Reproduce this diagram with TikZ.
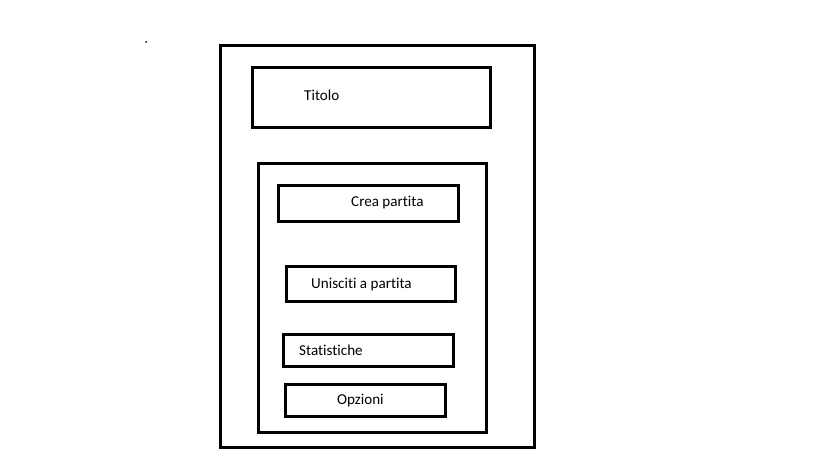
\documentclass[tikz,border=0pt]{standalone}
\usepackage{fontspec}
\setmainfont[Ligatures=NoCommon]{Carlito}
\begin{document}
\begin{tikzpicture}[x=1pt,y=-1pt,
  box/.style={draw=black, line width=3pt, fill=none, inner sep=0pt},
  lbl/.style={anchor=west, inner sep=0pt, font=\fontsize{15.1}{17}\selectfont, text=black}]
\useasboundingbox[fill=white] (0,0) rectangle (819,460);
% dot
\fill (146,42) circle (1);
% outer frame
\draw[box] (220,46) rectangle (534,447);
% title box
\draw[box] (252,68) rectangle (490,127);
\node[lbl] (titolo) at (304,95.5) {Titolo};
% inner panel
\draw[box] (258,163) rectangle (486,432);
% buttons
\draw[box] (278,185) rectangle (458,221);
\node[lbl] (crea) at (351,202.5) {Crea partita};
\draw[box] (286,266) rectangle (455,301);
\node[lbl] (unisciti) at (311,284.5) {Unisciti a partita};
\draw[box] (283,334) rectangle (453,366);
\node[lbl] (stat) at (299,350.5) {Statistiche};
\draw[box] (285,384) rectangle (445,416);
\node[lbl] (opzioni) at (337,400.5) {Opzioni};
\end{tikzpicture}
\end{document}
